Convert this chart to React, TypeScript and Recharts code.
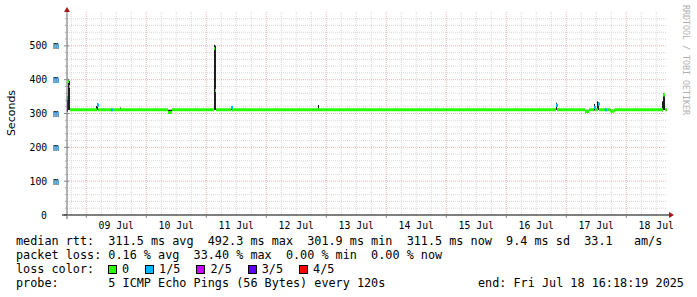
import React from 'react';
import { ComposedChart, Area, Scatter, XAxis, YAxis, CartesianGrid } from 'recharts';

// hours since Jul 08 00:00 (graph spans Jul 08 16:18 -> Jul 18 16:18)
const hours = [16.3, 16.7, 17.1, 17.5, 27.9, 28.3, 28.7, 33.9, 34.3, 37.5, 37.9, 56.7, 58.3, 75.1, 75.5, 75.9, 81.9, 82.3, 82.7, 116.7, 117.1, 211.9, 212.3, 223.5, 225.1, 227.1, 227.5, 228.3, 228.7, 229.1, 231.5, 231.9, 233.7, 235.3, 254.3, 254.7, 255.1, 255.5, 256.3];
const medianMs = [345, 395, 380, 311, 311, 325, 311, 311, 311, 311, 311, 303, 311, 492.3, 368, 311, 318, 311, 311, 311, 311, 324, 311, 306, 311, 318, 311, 311, 328, 311, 311, 311, 307, 311, 311, 355, 355, 311, 311];
const smokeLowMs = [305, 310, 310, 309, 309, 310, 309, 309, 309, 309, 309, 300, 309, 311, 310, 309, 310, 309, 309, 309, 309, 310, 309, 304, 309, 309, 309, 309, 310, 309, 309, 309, 305, 309, 306, 310, 310, 309, 309];
const smokeHighMs = [350, 402, 396, 313, 322, 330, 313, 313, 313, 318, 313, 311, 313, 503, 500, 313, 322, 316, 313, 325, 313, 332, 313, 311, 313, 328, 313, 336, 334, 313, 313, 313, 311, 313, 336, 360, 358, 313, 313];
const lossLevel = [0, 0, 0, 0, 0, 1, 0, 1, 0, 0, 0, 0, 0, 0, 0, 0, 1, 0, 0, 0, 0, 1, 0, 0, 0, 1, 0, 0, 1, 0, 1, 0, 0, 0, 0, 0, 0, 0, 0];

const dayTicks = [24, 48, 72, 96, 120, 144, 168, 192, 216, 240];
const dayLabelTicks = [36, 60, 84, 108, 132, 156, 180, 204, 228, 252];
const dayLabels = ['09 Jul', '10 Jul', '11 Jul', '12 Jul', '13 Jul', '14 Jul', '15 Jul', '16 Jul', '17 Jul', '18 Jul'];
const minorHourGrid = [18, 30, 36, 42, 54, 60, 66, 78, 84, 90, 102, 108, 114, 126, 132, 138, 150, 156, 162, 174, 180, 186, 198, 204, 210, 222, 228, 234, 246, 252];

const yMajorTicks = [0, 100, 200, 300, 400, 500];
const yMajorLabels = ['0', '100 m', '200 m', '300 m', '400 m', '500 m'];
const yMajorGrid = [100, 200, 300, 400, 500];
const yMinorGrid = [20, 40, 60, 80, 120, 140, 160, 180, 220, 240, 260, 280, 320, 340, 360, 380, 420, 440, 460, 480, 520, 540, 560, 580];

const lossColors = ['#26ff00', '#00b8ff', '#cc00ff', '#5c00ff', '#ff0000'];
const lossNames = ['0', '1/5', '2/5', '3/5', '4/5'];

const legendMedian = 'median rtt:  311.5 ms avg  492.3 ms max  301.9 ms min  311.5 ms now  9.4 ms sd  33.1   am/s';
const legendLoss = 'packet loss: 0.16 % avg  33.40 % max  0.00 % min  0.00 % now';
const legendColorTitle = 'loss color:';
const legendProbe = 'probe:       5 ICMP Echo Pings (56 Bytes) every 120s';
const legendEnd = 'end: Fri Jul 18 16:18:19 2025';

const rows = hours.map((h, i) => ({ h, med: medianMs[i], lo: smokeLowMs[i], hi: smokeHighMs[i], loss: lossLevel[i] }));
const lossRows = rows.filter((r) => r.loss > 0);

const MONO = '"DejaVu Sans Mono", monospace';

const XTick = (props: any) => {
  const { x, y, payload } = props;
  const idx = dayLabelTicks.indexOf(payload.value);
  if (idx >= 0) {
    return (
      <text x={x} y={y + 10} textAnchor="middle" dominantBaseline="central" fontFamily={MONO} fontSize={9.8} fill="#000">
        {dayLabels[idx]}
      </text>
    );
  }
  return <line x1={x} y1={y} x2={x} y2={y + 3} stroke="#888" strokeWidth={1} />;
};

const YTick = (props: any) => {
  const { x, y, payload } = props;
  const idx = yMajorTicks.indexOf(payload.value);
  if (idx >= 0) {
    const isZero = payload.value === 0;
    return (
      <g>
        <line x1={x - 3} y1={y} x2={x + 2} y2={y} stroke="#888" strokeWidth={1} />
        <text x={isZero ? x - 20 : x - 8} y={y} textAnchor="end" dominantBaseline="central" fontFamily={MONO} fontSize={9.8} fill="#000">
          {yMajorLabels[idx]}
        </text>
      </g>
    );
  }
  return <line x1={x - 2} y1={y} x2={x} y2={y} stroke="#aaa" strokeWidth={1} />;
};

const LossMark = (props: any) => {
  const { cx, cy, payload } = props;
  if (cx == null || cy == null) return null;
  return <rect x={cx} y={cy - 1.5} width={2} height={3} fill={lossColors[payload.loss]} />;
};

const yAllTicks = [...yMajorTicks, ...yMinorGrid].sort((a, b) => a - b);
const xAllTicks = [...dayTicks, ...dayLabelTicks].sort((a, b) => a - b);

export default function App() {
  return (
    <div style={{ position: 'absolute', left: 0, top: 0, width: 697, height: 297, background: '#fff', overflow: 'hidden' }}>
      <ComposedChart width={697} height={297} data={rows} margin={{ top: 12, right: 30, bottom: 62, left: 0 }}>
        <CartesianGrid horizontalValues={yMinorGrid} verticalValues={minorHourGrid} stroke="#d6d6d6" strokeDasharray="1 1" />
        <CartesianGrid horizontalValues={yMajorGrid} verticalValues={dayTicks} stroke="#eab4b4" strokeDasharray="1 1" />
        <XAxis
          dataKey="h"
          type="number"
          domain={[16.3, 256.3]}
          allowDataOverflow
          ticks={xAllTicks}
          interval={0}
          tick={XTick}
          tickLine={false}
          tickSize={0}
          tickMargin={0}
          axisLine={{ stroke: '#000' }}
          height={20}
        />
        <YAxis
          type="number"
          domain={[0, 600]}
          allowDataOverflow
          ticks={yAllTicks}
          interval={0}
          tick={YTick}
          tickLine={false}
          tickSize={0}
          tickMargin={0}
          axisLine={{ stroke: '#666' }}
          width={67}
        />
        <Area dataKey={(d: any) => [d.lo, d.hi]} type="stepAfter" stroke="none" fill="#1e1e1e" fillOpacity={1} isAnimationActive={false} />
        <Area dataKey={(d: any) => [d.med - 4.5, d.med + 4.5]} type="stepAfter" stroke="none" fill={lossColors[0]} fillOpacity={1} isAnimationActive={false} />
        <Scatter data={lossRows} dataKey="med" shape={LossMark} isAnimationActive={false} />
      </ComposedChart>

      <svg width={697} height={297} style={{ position: 'absolute', left: 0, top: 0, pointerEvents: 'none' }}>
        <line x1={62} y1={215} x2={67} y2={215} stroke="#000" />
        <line x1={667} y1={215} x2={670} y2={215} stroke="#000" />
        <line x1={67} y1={215} x2={67} y2={219} stroke="#666" />
        <line x1={67} y1={12} x2={67} y2={9} stroke="#666" />
        <polygon points="64,12 70,12 67,7" fill="#a01818" />
        <polygon points="669,212 669,218 674,215" fill="#a01818" />
        <text
          x={0}
          y={0}
          transform="translate(11,113) rotate(-90)"
          textAnchor="middle"
          dominantBaseline="central"
          fontFamily='"DejaVu Sans", sans-serif'
          fontSize={11}
          fill="#000"
        >
          Seconds
        </text>
        <text
          x={0}
          y={0}
          transform="translate(686,5) rotate(90)"
          textAnchor="start"
          dominantBaseline="central"
          fontFamily={MONO}
          fontSize={8.3}
          fill="#b0b0b0"
        >
          RRDTOOL / TOBI OETIKER
        </text>
      </svg>

      <div style={{ position: 'absolute', left: 16, top: 234, fontFamily: MONO, fontSize: 11.8, lineHeight: '14px', whiteSpace: 'pre', color: '#000' }}>
        <div>{legendMedian}</div>
        <div>{legendLoss}</div>
        <div style={{ display: 'flex', alignItems: 'center', height: 14 }}>
          <span style={{ width: 92 }}>{legendColorTitle}</span>
          {lossNames.map((n, i) => (
            <span key={n} style={{ display: 'flex', alignItems: 'center' }}>
              <span style={{ display: 'inline-block', width: 7, height: 7, border: '1px solid #000', background: lossColors[i], marginRight: 5 }} />
              <span style={{ marginRight: 16 }}>{n}</span>
            </span>
          ))}
        </div>
        <div style={{ position: 'relative' }}>
          {legendProbe}
          <span style={{ position: 'absolute', left: 462, top: 0 }}>{legendEnd}</span>
        </div>
      </div>
    </div>
  );
}
